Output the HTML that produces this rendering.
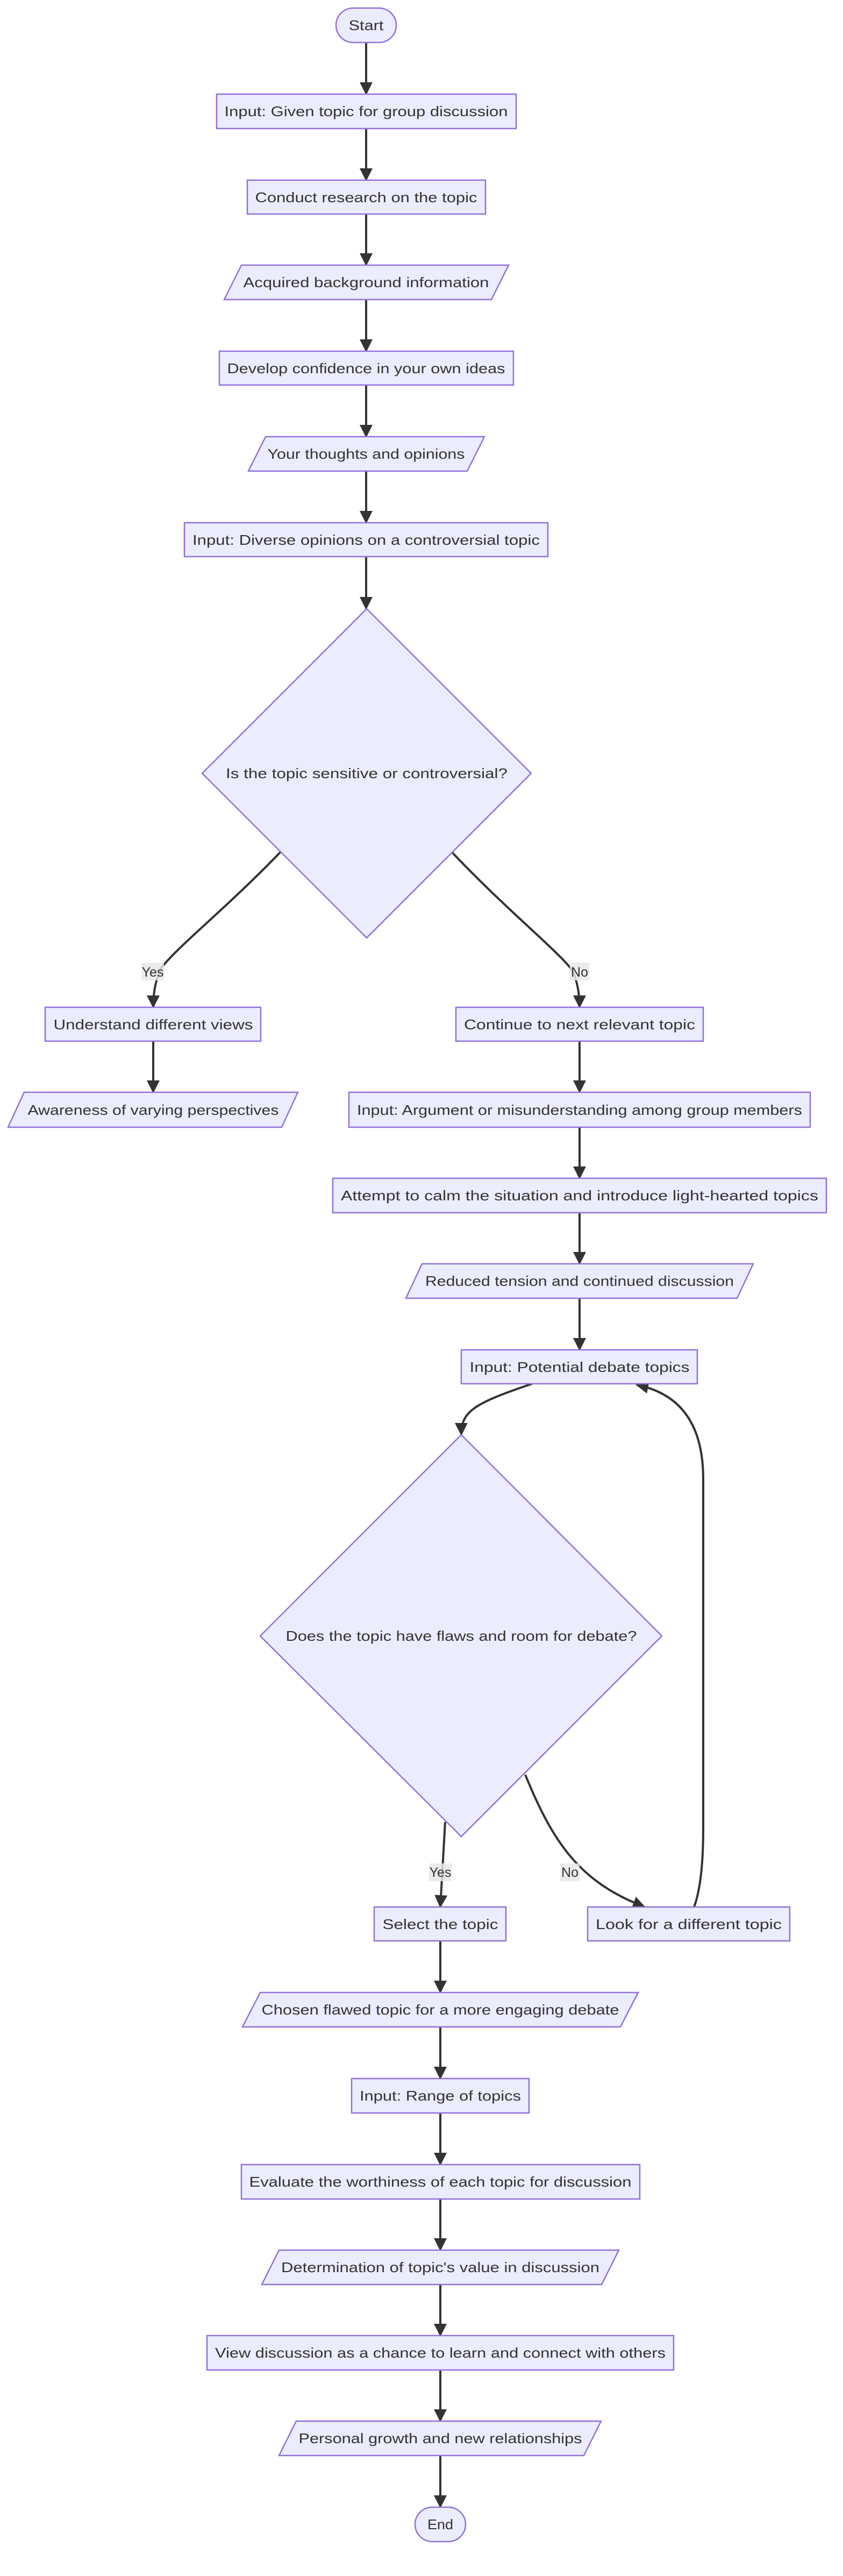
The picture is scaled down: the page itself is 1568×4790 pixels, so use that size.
<!DOCTYPE html>
<html><head><meta charset="utf-8"><style>
html,body{margin:0;padding:0;background:#fff;}
svg{display:block;}
text{font-family:"Liberation Sans",sans-serif;font-size:26px;fill:#333;}
.n{fill:#ECECFF;stroke:#9370DB;stroke-width:2.5;}
.e{fill:none;stroke:#333;stroke-width:4;}
.lb{fill:#e8e8e8;opacity:0.85;}
.l{font-size:25px;}
</style></head><body>
<svg width="1568" height="4790" viewBox="0 0 1568 4790" xmlns="http://www.w3.org/2000/svg">
<defs>
<marker id="a" markerUnits="userSpaceOnUse" markerWidth="24" markerHeight="24" viewBox="0 0 12 12" refX="11" refY="6" orient="auto">
<path d="M0,0 L12,6 L0,12 z" fill="#333"/>
</marker>
</defs>
<g class="e" marker-end="url(#a)">
<path d="M681,79 L681,175"/>
<path d="M681,239 L681,335"/>
<path d="M681,398 L681,493"/>
<path d="M681,557 L681,653"/>
<path d="M681,716 L681,812"/>
<path d="M681,876 L681,972"/>
<path d="M681,1035 L681,1132"/>
<path d="M522,1584 C420,1690 330,1760 300,1800 Q285,1830 285,1873"/>
<path d="M840,1584 C940,1690 1040,1770 1065,1805 Q1078,1835 1078,1873"/>
<path d="M285,1936 L285,2031"/>
<path d="M1078,1936 L1078,2031"/>
<path d="M1078,2096 L1078,2191"/>
<path d="M1078,2255 L1078,2350"/>
<path d="M1078,2414 L1078,2510"/>
<path d="M990,2573 C880,2610 858,2625 858,2668"/>
<path d="M828,3388 L819,3546"/>
<path d="M977,3300 C1030,3430 1080,3500 1199,3546"/>
<path d="M1291,3546 Q1308,3500 1308,3400 L1308,2750 Q1308,2600 1184,2575"/>
<path d="M819,3609 L819,3705"/>
<path d="M819,3769 L819,3865"/>
<path d="M819,3929 L819,4025"/>
<path d="M819,4089 L819,4184"/>
<path d="M819,4248 L819,4343"/>
<path d="M819,4407 L819,4502"/>
<path d="M819,4566 L819,4662"/>
</g>
<rect class="n" x="625" y="15" width="112" height="64" rx="32"/>
<text x="681" y="56" text-anchor="middle" textLength="65" lengthAdjust="spacingAndGlyphs">Start</text>
<rect class="n" x="403" y="175" width="557" height="64"/>
<text x="681" y="216" text-anchor="middle" textLength="527" lengthAdjust="spacingAndGlyphs">Input: Given topic for group discussion</text>
<rect class="n" x="460" y="335" width="443" height="63"/>
<text x="681" y="376" text-anchor="middle" textLength="413" lengthAdjust="spacingAndGlyphs">Conduct research on the topic</text>
<polygon class="n" points="449,493 946,493 914,557 417,557"/>
<text x="681" y="534" text-anchor="middle" textLength="457" lengthAdjust="spacingAndGlyphs">Acquired background information</text>
<rect class="n" x="408" y="653" width="547" height="63"/>
<text x="681" y="694" text-anchor="middle" textLength="517" lengthAdjust="spacingAndGlyphs">Develop confidence in your own ideas</text>
<polygon class="n" points="494,812 901,812 869,876 462,876"/>
<text x="681" y="853" text-anchor="middle" textLength="367" lengthAdjust="spacingAndGlyphs">Your thoughts and opinions</text>
<rect class="n" x="343" y="972" width="676" height="63"/>
<text x="681" y="1013" text-anchor="middle" textLength="646" lengthAdjust="spacingAndGlyphs">Input: Diverse opinions on a controversial topic</text>
<polygon class="n" points="682,1132 988,1438 682,1744 376,1438"/>
<text x="682" y="1447" text-anchor="middle" textLength="524" lengthAdjust="spacingAndGlyphs">Is the topic sensitive or controversial?</text>
<rect class="lb" x="263" y="1790" width="42" height="33"/>
<text class="l" x="284" y="1816" text-anchor="middle">Yes</text>
<rect class="lb" x="1060" y="1790" width="36" height="33"/>
<text class="l" x="1078" y="1816" text-anchor="middle">No</text>
<rect class="n" x="84" y="1873" width="401" height="63"/>
<text x="285" y="1914" text-anchor="middle" textLength="371" lengthAdjust="spacingAndGlyphs">Understand different views</text>
<rect class="n" x="848" y="1873" width="460" height="63"/>
<text x="1078" y="1914" text-anchor="middle" textLength="430" lengthAdjust="spacingAndGlyphs">Continue to next relevant topic</text>
<polygon class="n" points="45,2031 554,2031 524,2096 15,2096"/>
<text x="285" y="2073" text-anchor="middle" textLength="467" lengthAdjust="spacingAndGlyphs">Awareness of varying perspectives</text>
<rect class="n" x="649" y="2031" width="858" height="65"/>
<text x="1078" y="2073" text-anchor="middle" textLength="828" lengthAdjust="spacingAndGlyphs">Input: Argument or misunderstanding among group members</text>
<rect class="n" x="619" y="2191" width="918" height="64"/>
<text x="1078" y="2232" text-anchor="middle" textLength="888" lengthAdjust="spacingAndGlyphs">Attempt to calm the situation and introduce light-hearted topics</text>
<polygon class="n" points="785,2350 1401,2350 1371,2414 755,2414"/>
<text x="1078" y="2391" text-anchor="middle" textLength="574" lengthAdjust="spacingAndGlyphs">Reduced tension and continued discussion</text>
<rect class="n" x="858" y="2510" width="439" height="63"/>
<text x="1078" y="2551" text-anchor="middle" textLength="409" lengthAdjust="spacingAndGlyphs">Input: Potential debate topics</text>
<polygon class="n" points="858,2668 1231,3042 858,3415 484,3042"/>
<text x="858" y="3051" text-anchor="middle" textLength="653" lengthAdjust="spacingAndGlyphs">Does the topic have flaws and room for debate?</text>
<rect class="lb" x="798" y="3465" width="42" height="33"/>
<text class="l" x="819" y="3490" text-anchor="middle">Yes</text>
<rect class="lb" x="1042" y="3465" width="36" height="33"/>
<text class="l" x="1060" y="3490" text-anchor="middle">No</text>
<rect class="n" x="696" y="3546" width="245" height="63"/>
<text x="819" y="3587" text-anchor="middle" textLength="215" lengthAdjust="spacingAndGlyphs">Select the topic</text>
<rect class="n" x="1093" y="3546" width="376" height="63"/>
<text x="1281" y="3587" text-anchor="middle" textLength="346" lengthAdjust="spacingAndGlyphs">Look for a different topic</text>
<polygon class="n" points="484,3705 1187,3705 1154,3769 451,3769"/>
<text x="819" y="3746" text-anchor="middle" textLength="665" lengthAdjust="spacingAndGlyphs">Chosen flawed topic for a more engaging debate</text>
<rect class="n" x="654" y="3865" width="330" height="64"/>
<text x="819" y="3906" text-anchor="middle" textLength="300" lengthAdjust="spacingAndGlyphs">Input: Range of topics</text>
<rect class="n" x="449" y="4025" width="741" height="64"/>
<text x="819" y="4066" text-anchor="middle" textLength="711" lengthAdjust="spacingAndGlyphs">Evaluate the worthiness of each topic for discussion</text>
<polygon class="n" points="519,4184 1151,4184 1119,4248 487,4248"/>
<text x="819" y="4225" text-anchor="middle" textLength="592" lengthAdjust="spacingAndGlyphs">Determination of topic's value in discussion</text>
<rect class="n" x="385" y="4343" width="868" height="64"/>
<text x="819" y="4384" text-anchor="middle" textLength="838" lengthAdjust="spacingAndGlyphs">View discussion as a chance to learn and connect with others</text>
<polygon class="n" points="551,4502 1118,4502 1086,4566 519,4566"/>
<text x="819" y="4543" text-anchor="middle" textLength="527" lengthAdjust="spacingAndGlyphs">Personal growth and new relationships</text>
<rect class="n" x="772" y="4662" width="94" height="64" rx="32"/>
<text x="819" y="4703" text-anchor="middle" textLength="48" lengthAdjust="spacingAndGlyphs">End</text>
</svg>
</body></html>
